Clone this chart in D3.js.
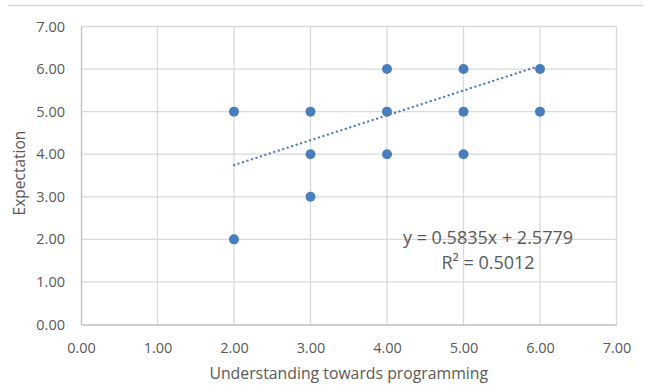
<!DOCTYPE html>
<html>
<head>
<meta charset="utf-8">
<script src="https://cdn.jsdelivr.net/npm/d3@7"></script>
<style>
  body { margin: 0; background: #fff; }
  svg text { font-family: "Open Sans", sans-serif; fill: #595959; }
</style>
</head>
<body>
<svg id="canvas"></svg>
<script>
// understanding (x) vs expectation (y)
const xValues = [2, 2, 3, 3, 3, 4, 4, 4, 5, 5, 5, 6, 6];
const yValues = [5, 2, 5, 4, 3, 6, 5, 4, 6, 5, 4, 6, 5];
const tickValues = [0, 1, 2, 3, 4, 5, 6, 7];
const slope = 0.5835;
const intercept = 2.5779;
const rSquared = 0.5012;

let width = 645;
let height = 385;

let canvas = d3.select('#canvas');
canvas.attr('width', width);
canvas.attr('height', height);

let xScale = d3.scaleLinear()
    .domain([0, 7])
    .range([81, 616.5]);

let yScale = d3.scaleLinear()
    .domain([0, 7])
    .range([324.5, 26.5]);

// chart frame top edge
canvas.append('line')
    .attr('x1', 8).attr('x2', 643)
    .attr('y1', 5.5).attr('y2', 5.5)
    .attr('stroke', '#d9d9d9')
    .attr('stroke-width', 1.3);

// gridlines
canvas.append('g')
    .selectAll('line')
    .data(tickValues.slice(1))
    .enter()
    .append('line')
    .attr('x1', (d) => xScale(d)).attr('x2', (d) => xScale(d))
    .attr('y1', yScale(0)).attr('y2', yScale(7))
    .attr('stroke', '#d9d9d9')
    .attr('stroke-width', 1.3);

canvas.append('g')
    .selectAll('line')
    .data(tickValues.slice(1))
    .enter()
    .append('line')
    .attr('x1', xScale(0)).attr('x2', xScale(7))
    .attr('y1', (d) => yScale(d)).attr('y2', (d) => yScale(d))
    .attr('stroke', '#d9d9d9')
    .attr('stroke-width', 1.3);

// axes
let xAxis = d3.axisBottom(xScale)
    .tickValues(tickValues)
    .tickFormat(d3.format('.2f'))
    .tickSize(0)
    .tickPadding(18);

let xg = canvas.append('g')
    .attr('transform', 'translate(0, ' + yScale(0) + ')')
    .call(xAxis);

let yAxis = d3.axisLeft(yScale)
    .tickValues(tickValues)
    .tickFormat(d3.format('.2f'))
    .tickSize(0)
    .tickPadding(16);

let yg = canvas.append('g')
    .attr('transform', 'translate(' + xScale(0) + ', 0)')
    .call(yAxis);

[xg, yg].forEach((g) => {
    g.select('.domain').attr('stroke', '#bfbfbf').attr('stroke-width', 1.3);
    g.selectAll('text')
        .style('font-family', '"Open Sans", sans-serif')
        .style('font-size', '14.5px')
        .attr('fill', '#595959');
});

// trendline
let trend = [2, 6].map((x) => [x, slope * x + intercept]);
canvas.append('path')
    .datum(trend)
    .attr('d', d3.line().x((d) => xScale(d[0])).y((d) => yScale(d[1])))
    .attr('stroke', '#4a7ebb')
    .attr('stroke-width', 2.3)
    .attr('stroke-dasharray', '0.1 4.6')
    .attr('stroke-linecap', 'round')
    .attr('fill', 'none');

// points
canvas.append('g')
    .selectAll('circle')
    .data(xValues)
    .enter()
    .append('circle')
    .attr('cx', (d) => xScale(d))
    .attr('cy', (d, i) => yScale(yValues[i]))
    .attr('r', 5)
    .attr('fill', '#4a7ebb');

// equation label
canvas.append('text')
    .attr('x', 488).attr('y', 244)
    .attr('text-anchor', 'middle')
    .style('font-size', '18px')
    .text('y = ' + slope + 'x + ' + intercept);

canvas.append('text')
    .attr('x', 488).attr('y', 269)
    .attr('text-anchor', 'middle')
    .style('font-size', '18px')
    .text('R² = ' + rSquared);

// axis titles
canvas.append('text')
    .attr('x', (xScale(0) + xScale(7)) / 2)
    .attr('y', 379)
    .attr('text-anchor', 'middle')
    .style('font-size', '15.8px')
    .text('Understanding towards programming');

canvas.append('text')
    .attr('transform', 'translate(25, 173) rotate(-90)')
    .attr('text-anchor', 'middle')
    .style('font-size', '15.5px')
    .text('Expectation');
</script>
</body>
</html>
